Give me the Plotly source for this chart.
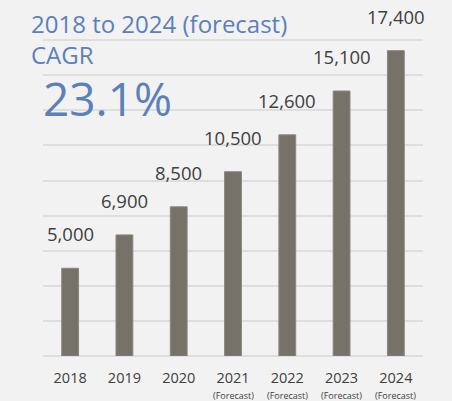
import plotly.graph_objects as go

years = ["2018", "2019", "2020", "2021", "2022", "2023", "2024"]
values = [5000, 6900, 8500, 10500, 12600, 15100, 17400]
forecast = [False, False, False, True, True, True, True]
title_line1 = "2018 to 2024 (forecast)"
title_line2 = "CAGR"
cagr_text = "23.1%"

W, H = 452, 401
L, R, T, B = 43, 29, 5, 45
PW, PH = W - L - R, H - T - B

def px_x(x):
    return (x - L) / PW

def px_y(y):
    return (H - B - y) / PH

FONT = "Open Sans"
BLUE = "#5b80ba"
TXT = "#404040"
BAR = "#767269"

idx = list(range(len(years)))

fig = go.Figure()
fig.add_trace(go.Bar(
    x=idx, y=values, width=0.31,
    marker=dict(color=BAR, line=dict(color="#8a8780", width=1)),
    hoverinfo="skip",
))

ann = []
for i, v in zip(idx, values):
    ann.append(dict(x=i, y=v, xref="x", yref="y", text=f"{v:,}",
                    showarrow=False, yanchor="bottom", yshift=20,
                    font=dict(family=FONT, size=18.5, color=TXT)))
for i, f in zip(idx, forecast):
    if f:
        ann.append(dict(x=i, y=0, xref="x", yref="paper", text="(Forecast)",
                        showarrow=False, yanchor="middle", yshift=-39,
                        font=dict(family=FONT, size=9, color=TXT)))

ann.append(dict(x=px_x(29), y=px_y(23), xref="paper", yref="paper",
                text=title_line1, showarrow=False, xanchor="left", yanchor="middle",
                font=dict(family=FONT, size=24, color=BLUE)))
ann.append(dict(x=px_x(29), y=px_y(55), xref="paper", yref="paper",
                text=title_line2, showarrow=False, xanchor="left", yanchor="middle",
                font=dict(family=FONT, size=24, color=BLUE)))
ann.append(dict(x=px_x(41), y=px_y(98), xref="paper", yref="paper",
                text=cagr_text, showarrow=False, xanchor="left", yanchor="middle",
                font=dict(family=FONT, size=46, color=BLUE)))

fig.update_layout(
    width=W, height=H,
    margin=dict(l=L, r=R, t=T, b=B),
    paper_bgcolor="#f2f2f2", plot_bgcolor="#f2f2f2",
    showlegend=False,
    annotations=ann,
    xaxis=dict(range=[-0.5, len(years) - 0.5], tickvals=idx, ticktext=years,
               showgrid=False, showline=False, zeroline=False, ticks="",
               ticklabelstandoff=11,
               tickfont=dict(family=FONT, size=14.5, color=TXT)),
    yaxis=dict(range=[0, 20000], dtick=2000, showticklabels=False,
               gridcolor="#dedede", gridwidth=1.5, zeroline=True,
               zerolinecolor="#dedede", zerolinewidth=1.5, showline=False),
)

fig.write_html("out.html")
